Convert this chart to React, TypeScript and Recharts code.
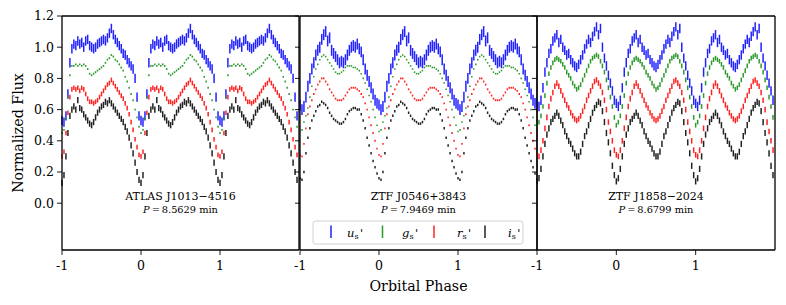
import React from 'react';
import { ScatterChart, Scatter, XAxis, YAxis, ErrorBar, ReferenceLine } from 'recharts';

// Orbital phase grid of one cycle (the cycle is drawn at -1, 0 and +1)
const PHASE = [
  0.0, 0.025, 0.05, 0.075, 0.1, 0.125, 0.15, 0.175, 0.2, 0.225,
  0.25, 0.275, 0.3, 0.325, 0.35, 0.375, 0.4, 0.425, 0.45, 0.475,
  0.5, 0.525, 0.55, 0.575, 0.6, 0.625, 0.65, 0.675, 0.7, 0.725,
  0.75, 0.775, 0.8, 0.825, 0.85, 0.875, 0.9, 0.925, 0.95, 0.975,
];
const CYCLES = [-1, 0, 1];

const X_TICKS = [-1, 0, 1];
const Y_TICKS = [0, 0.2, 0.4, 0.6, 0.8, 1.0, 1.2];

const BAND_NAMES = ['u', 'g', 'r', 'i'];
const BAND_COLORS = ['#2222ff', '#2b9a2b', '#ff2222', '#222222'];

// ATLAS J1013-4516
const P1_U = [0.53, 0.52, 0.56, 0.70, 0.90, 0.99, 1.02, 1.01, 1.04, 1.02, 1.03, 1.00, 1.04, 1.05, 1.01, 1.00, 0.99, 1.00, 1.02, 1.03, 1.04, 1.05, 1.04, 1.06, 1.09, 1.12, 1.08, 1.05, 1.03, 1.01, 0.99, 0.96, 0.95, 0.92, 0.90, 0.88, 0.86, 0.80, 0.68, 0.56];
const P1_G = [0.45, 0.47, 0.54, 0.68, 0.82, 0.88, 0.88, 0.89, 0.88, 0.89, 0.88, 0.89, 0.88, 0.86, 0.83, 0.82, 0.83, 0.84, 0.85, 0.86, 0.87, 0.88, 0.90, 0.92, 0.93, 0.95, 0.94, 0.92, 0.91, 0.89, 0.87, 0.85, 0.81, 0.78, 0.74, 0.70, 0.66, 0.60, 0.55, 0.49];
const P1_R = [0.30, 0.33, 0.45, 0.58, 0.68, 0.73, 0.74, 0.73, 0.74, 0.72, 0.74, 0.73, 0.70, 0.67, 0.65, 0.65, 0.64, 0.65, 0.66, 0.68, 0.70, 0.72, 0.74, 0.76, 0.77, 0.79, 0.77, 0.75, 0.73, 0.71, 0.69, 0.67, 0.64, 0.61, 0.57, 0.52, 0.47, 0.41, 0.36, 0.31];
const P1_I = [0.13, 0.18, 0.30, 0.45, 0.56, 0.60, 0.62, 0.60, 0.66, 0.61, 0.60, 0.57, 0.55, 0.53, 0.51, 0.50, 0.52, 0.55, 0.58, 0.60, 0.62, 0.63, 0.65, 0.64, 0.66, 0.64, 0.62, 0.60, 0.58, 0.56, 0.54, 0.52, 0.49, 0.46, 0.42, 0.37, 0.32, 0.26, 0.20, 0.15];
const P1_ERR = [0.03, 0.006, 0.015, 0.02];

// ZTF J0546+3843
const P2_U = [0.63, 0.60, 0.62, 0.68, 0.75, 0.80, 0.86, 0.90, 0.95, 0.98, 1.00, 1.05, 1.08, 1.10, 1.04, 1.06, 0.98, 0.96, 0.94, 0.92, 0.90, 0.91, 0.90, 0.92, 0.95, 0.98, 1.00, 1.01, 1.00, 1.02, 0.99, 0.97, 0.92, 0.86, 0.82, 0.78, 0.74, 0.70, 0.66, 0.64];
const P2_G = [0.46, 0.47, 0.52, 0.56, 0.61, 0.68, 0.75, 0.81, 0.86, 0.89, 0.92, 0.94, 0.95, 0.94, 0.92, 0.90, 0.88, 0.86, 0.84, 0.83, 0.83, 0.84, 0.85, 0.87, 0.88, 0.88, 0.88, 0.87, 0.87, 0.86, 0.85, 0.83, 0.80, 0.77, 0.73, 0.69, 0.65, 0.60, 0.55, 0.50];
const P2_R = [0.31, 0.30, 0.38, 0.48, 0.57, 0.62, 0.66, 0.70, 0.73, 0.76, 0.78, 0.80, 0.80, 0.78, 0.76, 0.73, 0.71, 0.69, 0.67, 0.66, 0.66, 0.66, 0.67, 0.69, 0.71, 0.73, 0.74, 0.74, 0.74, 0.73, 0.72, 0.70, 0.68, 0.64, 0.60, 0.55, 0.50, 0.45, 0.40, 0.35];
const P2_I = [0.16, 0.15, 0.20, 0.32, 0.42, 0.48, 0.53, 0.56, 0.59, 0.62, 0.63, 0.65, 0.64, 0.63, 0.61, 0.58, 0.56, 0.54, 0.53, 0.52, 0.51, 0.51, 0.52, 0.54, 0.57, 0.59, 0.60, 0.61, 0.61, 0.60, 0.60, 0.57, 0.53, 0.48, 0.42, 0.37, 0.32, 0.27, 0.23, 0.19];
const P2_ERR = [0.035, 0.005, 0.006, 0.008];

// ZTF J1858-2024
const P3_U = [0.64, 0.62, 0.66, 0.74, 0.84, 0.90, 0.96, 0.99, 1.04, 1.06, 1.08, 1.03, 1.05, 1.00, 0.98, 0.95, 0.96, 0.92, 0.90, 0.88, 0.87, 0.89, 0.92, 0.95, 0.99, 1.02, 1.05, 1.03, 1.07, 1.10, 1.13, 1.08, 1.12, 1.00, 0.93, 0.88, 0.82, 0.77, 0.72, 0.66];
const P3_G = [0.50, 0.52, 0.56, 0.62, 0.69, 0.77, 0.83, 0.87, 0.90, 0.92, 0.93, 0.92, 0.91, 0.89, 0.87, 0.84, 0.82, 0.80, 0.77, 0.75, 0.73, 0.74, 0.76, 0.79, 0.82, 0.85, 0.88, 0.91, 0.93, 0.94, 0.95, 0.94, 0.91, 0.88, 0.84, 0.79, 0.74, 0.68, 0.62, 0.55];
const P3_R = [0.31, 0.30, 0.34, 0.40, 0.48, 0.55, 0.62, 0.67, 0.71, 0.75, 0.77, 0.75, 0.72, 0.69, 0.66, 0.63, 0.61, 0.58, 0.56, 0.54, 0.53, 0.54, 0.56, 0.59, 0.62, 0.66, 0.69, 0.72, 0.75, 0.78, 0.79, 0.77, 0.75, 0.71, 0.66, 0.60, 0.52, 0.46, 0.40, 0.34];
const P3_I = [0.14, 0.16, 0.22, 0.30, 0.38, 0.44, 0.48, 0.52, 0.54, 0.56, 0.58, 0.56, 0.53, 0.50, 0.46, 0.43, 0.40, 0.38, 0.35, 0.32, 0.30, 0.30, 0.33, 0.38, 0.43, 0.46, 0.50, 0.54, 0.58, 0.61, 0.63, 0.65, 0.64, 0.59, 0.52, 0.45, 0.39, 0.32, 0.24, 0.18];
const P3_ERR = [0.03, 0.015, 0.018, 0.02];

const TITLES = ['ATLAS J1013\u22124516', 'ZTF J0546+3843', 'ZTF J1858\u22122024'];
const PERIODS = ['8.5629', '7.9469', '8.6799'];

const FONT = '"DejaVu Serif", serif';

type Pt = { x: number; y: number; e: number };

function expand(vals: number[], err: number): Pt[] {
  const out: Pt[] = [];
  for (const k of CYCLES) {
    PHASE.forEach((p, i) => out.push({ x: p + k, y: vals[i], e: err }));
  }
  return out;
}

const PANELS = [
  { bands: [P1_U, P1_G, P1_R, P1_I], errs: P1_ERR, left: 0, width: 300, yw: 62, labels: true },
  { bands: [P2_U, P2_G, P2_R, P2_I], errs: P2_ERR, left: 290, width: 248, yw: 10, labels: false },
  { bands: [P3_U, P3_G, P3_R, P3_I], errs: P3_ERR, left: 527, width: 249, yw: 10, labels: false },
];

const tickStyle = { fontFamily: FONT, fontSize: 12.5, fill: '#000' };
const noShape = () => <g />;

function Panel({ p }: { p: (typeof PANELS)[number] }) {
  return (
    <div style={{ position: 'absolute', left: p.left, top: 0 }}>
      <ScatterChart width={p.width} height={305} margin={{ top: 16, right: 1, left: 0, bottom: 0 }}>
        <XAxis
          type="number"
          dataKey="x"
          domain={[-1, 2]}
          ticks={X_TICKS}
          allowDataOverflow
          height={55}
          tickSize={5}
          tickMargin={6}
          tick={tickStyle}
          tickLine={{ stroke: '#000', strokeWidth: 0.9 }}
          axisLine={{ stroke: '#000', strokeWidth: 1.3 }}
          tickFormatter={(v: number) => (v < 0 ? '-' + Math.abs(v) : String(v))}
        />
        <YAxis
          type="number"
          dataKey="y"
          domain={[-0.3, 1.2]}
          ticks={Y_TICKS}
          allowDataOverflow
          width={p.yw}
          tickSize={5}
          tickMargin={3}
          tick={tickStyle}
          tickLine={{ stroke: '#000', strokeWidth: 0.9 }}
          axisLine={{ stroke: '#000', strokeWidth: 1.3 }}
          tickFormatter={(v: number) => (p.labels ? v.toFixed(1) : '')}
        />
        <ReferenceLine y={1.2} stroke="#000" strokeWidth={1.3} />
        <ReferenceLine x={2} stroke="#000" strokeWidth={1.3} />
        {p.bands.map((vals, b) => (
          <Scatter
            key={BAND_NAMES[b]}
            data={expand(vals, p.errs[b])}
            shape={noShape}
            isAnimationActive={false}
          >
            <ErrorBar
              dataKey="e"
              direction="y"
              width={0}
              stroke={BAND_COLORS[b]}
              strokeWidth={1.5}
              isAnimationActive={false}
            />
          </Scatter>
        ))}
      </ScatterChart>
    </div>
  );
}

const CENTERS = [180.5, 418.5, 656];
const LEGEND_HANDLE_X = [331, 382.5, 434, 485];
const LEGEND_TEXT_X = [347, 402, 457, 508];

export default function App() {
  return (
    <div style={{ position: 'absolute', left: 0, top: 0, width: 786, height: 305, background: '#fff' }}>
      {PANELS.map((p, i) => (
        <Panel key={i} p={p} />
      ))}
      <svg
        width={786}
        height={305}
        style={{ position: 'absolute', left: 0, top: 0, pointerEvents: 'none' }}
        fontFamily={FONT}
      >
        <text
          x={18}
          y={133}
          fontSize={14.2}
          textAnchor="middle"
          dominantBaseline="central"
          transform="rotate(-90 18 133)"
        >
          Normalized Flux
        </text>
        <text x={418.5} y={290.5} fontSize={14.2} textAnchor="middle">
          Orbital Phase
        </text>
        {TITLES.map((t, i) => (
          <g key={t}>
            <text x={CENTERS[i]} y={199.5} fontSize={11} textAnchor="middle">
              {t}
            </text>
            <text x={CENTERS[i]} y={212.5} fontSize={9.8} textAnchor="middle">
              <tspan fontStyle="italic">P</tspan>
              {'\u2009=\u2009' + PERIODS[i] + ' min'}
            </text>
          </g>
        ))}
        <rect x={313} y={221} width={210} height={23} rx={2.5} fill="#fff" fillOpacity={0.85} stroke="#cccccc" strokeWidth={0.9} />
        {BAND_NAMES.map((n, i) => (
          <g key={n}>
            <line x1={LEGEND_HANDLE_X[i]} x2={LEGEND_HANDLE_X[i]} y1={225.5} y2={238} stroke={BAND_COLORS[i]} strokeWidth={1.5} />
            <text x={LEGEND_TEXT_X[i]} y={236.5} fontSize={11.5}>
              <tspan fontStyle="italic">{n}</tspan>
              <tspan fontSize={8} dy={2}>s</tspan>
              <tspan dy={-2} dx={1.5}>'</tspan>
            </text>
          </g>
        ))}
      </svg>
    </div>
  );
}
